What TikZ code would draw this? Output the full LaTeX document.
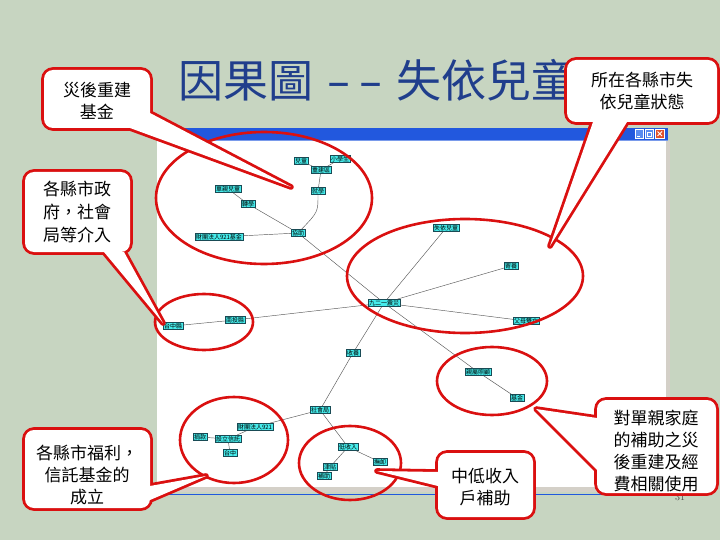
\documentclass[tikz,border=0pt]{standalone}
\usepackage{fontspec}
\newfontfamily\cjk{Noto Sans CJK TC}
\definecolor{bgc}{RGB}{199,213,193}
\definecolor{redc}{RGB}{218,16,16}
\definecolor{nodec}{RGB}{70,236,236}
\definecolor{nodeb}{RGB}{25,75,85}
\definecolor{titlec}{RGB}{32,62,140}
\definecolor{barc}{RGB}{34,88,222}
\definecolor{btnc}{RGB}{90,140,240}
\definecolor{closec}{RGB}{225,80,45}
\definecolor{edgec}{RGB}{90,90,90}
\definecolor{framec}{RGB}{212,208,200}
\newcommand\mycallout[5]{%
  \path[cboxs] #1 rectangle #2;
  \path[cwedges] #3 -- #4 -- #5 -- cycle;
  \path[cboxf] #1 rectangle #2;
  \path[cwedgef] #3 -- #4 -- #5 -- cycle;}
\begin{document}
\begin{tikzpicture}[x=1pt,y=-1pt,
  cn/.style={draw=nodeb,fill=nodec,line width=0.5pt,inner sep=0.9pt,font=\cjk\fontsize{6}{6}\selectfont},
  ed/.style={draw=edgec,line width=0.45pt},
  ring/.style={draw=redc,line width=2.6pt},
  cboxs/.style={draw=redc,line width=5.6pt,rounded corners=9pt},
  cwedges/.style={draw=redc,line width=5.6pt,line join=round},
  cboxf/.style={fill=white,rounded corners=9pt},
  cwedgef/.style={fill=white},
  ctext/.style={align=center,text=black,font=\cjk\fontsize{17}{22}\selectfont,inner sep=0pt},
]
\useasboundingbox (0,0) rectangle (720,540);
\fill[bgc] (0,0) rectangle (720,540);

% title
\node[anchor=west,text=titlec,font=\cjk\fontsize{45}{45}\selectfont,inner sep=0pt] (title) at (178,80)
  {因果圖\hspace{0.3em}\scalebox{1.6}[1]{-}\hspace{0.15em}\scalebox{1.6}[1]{-}\hspace{0.3em}失依兒童};

% window
\fill[white] (157,140) rectangle (666,488);
\fill[barc] (157,128) rectangle (668,141);
\fill[barc!60!white] (157,140) rectangle (668,141.5);
\filldraw[fill=btnc,draw=white,line width=0.6pt] (635,129.5) rectangle (643.5,138);
\filldraw[fill=btnc,draw=white,line width=0.6pt] (645,129.5) rectangle (653.5,138);
\filldraw[fill=closec,draw=white,line width=0.6pt] (655,129.5) rectangle (664.5,138);
\draw[white,line width=0.8pt] (637,136) -- (640,136);
\draw[white,line width=0.6pt] (647,132) rectangle (651.5,136);
\draw[white,line width=0.8pt] (657.5,131.5) -- (662,136) (662,131.5) -- (657.5,136);
\fill[framec] (666,141) rectangle (670,490);
\fill[framec] (157,487) rectangle (670,492);
\draw[barc,line width=1pt] (157,494) -- (670,494);
\node[text=black!70,font=\fontsize{10}{10}\selectfont] (pg) at (680,497) {31};

% graph nodes
\node[cn] (n1) at (301,161) {兒童};
\node[cn] (n2) at (340,159) {小學生};
\node[cn] (n3) at (321,170) {重建區};
\node[cn] (n4) at (318,191) {就學};
\node[cn] (n5) at (228,189) {單親兒童};
\node[cn] (n6) at (248,204) {轉學};
\node[cn] (n7) at (298,233) {協助};
\node[cn] (n8) at (219,237) {財團法人921基金};
\node[cn] (n9) at (446,228) {失依兒童};
\node[cn] (n10) at (511,266) {寄養};
\node[cn] (n11) at (384,303) {九二一震災};
\node[cn] (n12) at (235,320) {南投縣};
\node[cn] (n13) at (173,326) {台中縣};
\node[cn] (n14) at (526,321) {父母雙亡};
\node[cn] (n15) at (353,353) {收養};
\node[cn] (n16) at (478,372) {親屬照顧};
\node[cn] (n17) at (517,398) {基金};
\node[cn] (n18) at (320,410) {社會局};
\node[cn] (n19) at (255,427) {財團法人921};
\node[cn] (n20) at (200,437) {捐款};
\node[cn] (n21) at (228,439) {設立信託};
\node[cn] (n22) at (230,453) {台中};
\node[cn] (n23) at (348,447) {低收入};
\node[cn] (n24) at (380,462) {撫卹};
\node[cn] (n25) at (330,467) {津貼};
\node[cn] (n26) at (324,476) {補助};

% connectors
\draw[ed] (n1) -- (n3);
\draw[ed] (n2) -- (n3);
\draw[ed] (n3) -- (n4);
\draw[ed] (n4) .. controls (318,212) .. (n7);
\draw[ed] (n5) -- (n6);
\draw[ed] (n6) -- (n7);
\draw[ed] (n8) -- (n7);
\draw[ed] (n7) -- (n11);
\draw[ed] (n9) -- (n11);
\draw[ed] (n10) -- (n11);
\draw[ed] (n12) -- (n11);
\draw[ed] (n13) -- (n12);
\draw[ed] (n14) -- (n11);
\draw[ed] (n15) -- (n11);
\draw[ed] (n16) -- (n11);
\draw[ed] (n17) -- (n16);
\draw[ed] (n15) -- (n18);
\draw[ed] (n18) -- (n19);
\draw[ed] (n19) -- (n21);
\draw[ed] (n20) -- (n21);
\draw[ed] (n21) -- (n22);
\draw[ed] (n18) -- (n23);
\draw[ed] (n23) -- (n24);
\draw[ed] (n23) -- (n25);
\draw[ed] (n25) -- (n26);

% red rings
\draw[ring] (264,198) ellipse [x radius=108, y radius=66];
\draw[ring] (465,276) ellipse [x radius=118, y radius=57];
\draw[ring] (204,322) ellipse [x radius=49, y radius=28];
\draw[ring] (492,381) ellipse [x radius=55, y radius=34];
\draw[ring] (234,440) ellipse [x radius=54, y radius=43];
\draw[ring] (350,463) ellipse [x radius=51, y radius=37];

% callouts
\coordinate (t1) at (291,187);
\coordinate (t2) at (550,246);
\coordinate (t3) at (163,323);
\coordinate (t4) at (206,476);
\coordinate (t5) at (377,471);
\coordinate (t6) at (536,409);

\mycallout{(44,70)}{(150,128)}{(130,128)}{(t1)}{(150,113)}
\node[ctext] (c1) at (97,101) {災後重建\\基金};

\mycallout{(567,60)}{(717,122)}{(593,122)}{(t2)}{(627,122)}
\node[ctext] (c2) at (642,91) {所在各縣市失\\依兒童狀態};

\mycallout{(25,172)}{(130,252)}{(104,252)}{(t3)}{(124,252)}
\node[ctext,font=\cjk\fontsize{17}{23}\selectfont] (c3) at (77,212) {各縣市政\\府，社會\\局等介入};

\mycallout{(25,430)}{(150,508)}{(150,486)}{(t4)}{(150,500)}
\node[ctext] (c4) at (87,475) {各縣市福利，\\信託基金的\\成立};

\mycallout{(438,453)}{(533,517)}{(438,472)}{(t5)}{(438,486)}
\node[ctext] (c5) at (485,487) {中低收入\\戶補助};

\mycallout{(597,400)}{(716,493)}{(597,418)}{(t6)}{(597,470)}
\node[ctext] (c6) at (656,451) {對單親家庭\\的補助之災\\後重建及經\\費相關使用};
\end{tikzpicture}
\end{document}
